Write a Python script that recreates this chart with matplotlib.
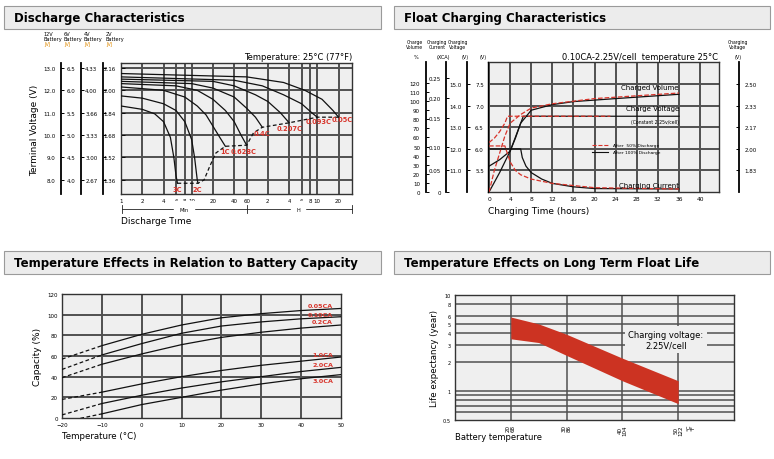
import matplotlib
matplotlib.use("Agg")
import matplotlib.pyplot as plt
import numpy as np
from matplotlib.patches import Rectangle

# ---------------- data ----------------
# Discharge (minutes, 12V-scale voltage)
dis_curves = {
    "3C": [(1,11.3),(2,11.15),(3,10.95),(4,10.6),(5,9.9),(5.6,9.0),(6,8.2),(6.3,7.85)],
    "2C": [(1,11.75),(2,11.65),(4,11.4),(6,11.1),(8,10.6),(10,9.8),(11,9.0),(12,8.0),(12.3,7.85)],
    "1C": [(1,12.15),(4,12.0),(8,11.7),(12,11.3),(16,10.9),(20,10.4),(25,9.9),(30,9.5)],
    "0.628C": [(1,12.3),(6,12.2),(12,12.0),(20,11.6),(30,11.1),(40,10.6),(50,10.0),(60,9.55)],
    "0.4C": [(1,12.4),(10,12.3),(20,12.1),(40,11.7),(60,11.2),(80,10.8),(100,10.35)],
    "0.207C": [(1,12.5),(20,12.4),(40,12.2),(80,11.8),(120,11.5),(180,11.0),(240,10.55)],
    "0.093C": [(1,12.6),(40,12.45),(100,12.2),(200,11.8),(360,11.4),(500,11.0),(600,10.8)],
    "0.05C": [(1,12.75),(60,12.6),(200,12.35),(400,12.0),(700,11.6),(1000,11.1),(1200,10.8)],
}
dis_label_pos = {"3C":(6.2,7.6),"2C":(12,7.6),"1C":(30,9.3),"0.628C":(55,9.3),
                 "0.4C":(100,10.1),"0.207C":(240,10.3),"0.093C":(620,10.65),"0.05C":(1350,10.7)}
dis_end = [(6.3,7.85),(12.3,7.85),(15,8.0),(18,8.6),(22,9.2),(30,9.5),(60,9.55),(75,10.1),
           (100,10.35),(240,10.55),(600,10.8),(1200,10.8)]
dis_xticks = [1,2,4,6,8,10,20,40,60,120,240,360,480,600,1200]
dis_xlabels = ["1","2","4","6","8","10","20","40","60","2","4","6","8","10","20"]
v12 = [13,12,11,10,9,8]
v6 = ["6.5","6.0","5.5","5.0","4.5","4.0"]
v4 = ["4.33","4.00","3.66","3.33","3.00","2.67"]
v2 = ["2.16","2.00","1.84","1.68","1.52","1.36"]

# Float charging (hours, main V scale)
vol_black = [(0,5.0),(2,5.45),(4,5.95),(6,6.6),(8,6.9),(12,7.03),(16,7.1),(24,7.17),(36,7.27)]
vol_red = [(0,5.0),(1,5.5),(2,5.9),(3,6.3),(4,6.6),(6,6.8),(8,6.95),(12,7.05),(20,7.17),(36,7.3)]
volt_black = [(0,5.6),(2,5.75),(4,5.95),(5,6.25),(6,6.6),(6.5,6.76),(36,6.76)]
volt_red = [(0,6.15),(1,6.25),(2,6.4),(3,6.6),(3.5,6.76),(23,6.76)]
cur_black = [(0,6.0),(6,6.0),(6.3,5.8),(7,5.6),(8,5.45),(10,5.3),(12,5.2),(16,5.12),(20,5.08),(36,5.07)]
cur_red = [(0,6.07),(3,6.07),(4,5.7),(5,5.5),(6,5.4),(8,5.3),(12,5.2),(20,5.1),(36,5.07)]

# Temperature vs capacity
temps = [-20,-10,0,10,20,30,40,50]
cap = {
    "0.05CA": [57,70,81,90,97,101,104,106],
    "0.10CA": [47,61,72,82,89,93,96,98],
    "0.2CA": [39,52,62,71,78,83,87,90],
    "1.0CA": [18,25,33,40,46,51,55,59],
    "2.0CA": [3,14,22,29,35,40,45,49],
    "3.0CA": [-4,4,13,20,27,33,38,42],
}
cap_lab_y = {"0.05CA":108.5,"0.10CA":100.5,"0.2CA":93,"1.0CA":61,"2.0CA":51.5,"3.0CA":36}

# Float life
life_t = [20,25,30,40,50]
life_hi = [5.9,5.0,3.9,2.2,1.28]
life_lo = [3.5,3.2,2.35,1.28,0.74]

# ---------------- figure ----------------
fig = plt.figure(figsize=(7.74,4.6), dpi=100)
W,H = 774,460
BG = "#efefef"; GC = "#505050"; RED = "#d8332a"

def fa(l,t,r,b):
    return [l/W, 1-b/H, (r-l)/W, (b-t)/H]

def title_band(l,t,r,b,txt):
    fig.patches.append(Rectangle((l/W,1-b/H),(r-l)/W,(b-t)/H,transform=fig.transFigure,
                                 facecolor="#ececec",edgecolor="#9a9a9a",lw=0.8))
    fig.text((l+10)/W,1-(t+b)/2/H,txt,fontsize=8.5,fontweight="bold",va="center",ha="left")

title_band(4,7,381,30,"Discharge Characteristics")
title_band(394,7,770,30,"Float Charging Characteristics")
title_band(4,252,381,275,"Temperature Effects in Relation to Battery Capacity")
title_band(394,252,770,275,"Temperature Effects on Long Term Float Life")

def style(ax):
    ax.set_facecolor(BG)
    for s in ax.spines.values():
        s.set_color("#333"); s.set_linewidth(1.0)
    ax.tick_params(labelsize=4.5, length=2, width=0.6)

def extra(ax, frac, ticks, labels, side="left"):
    tw = ax.twinx()
    tw.set_ylim(ax.get_ylim())
    tw.spines["right"].set_visible(side=="right")
    for k in ("top","bottom"): tw.spines[k].set_visible(False)
    if side=="left":
        tw.spines["left"].set_visible(True)
        tw.spines["left"].set_position(("axes",frac))
        tw.yaxis.set_ticks_position("left"); tw.yaxis.set_label_position("left")
    else:
        tw.spines["right"].set_position(("axes",frac))
    tw.set_yticks(ticks); tw.set_yticklabels(labels)
    tw.tick_params(labelsize=4.0, length=2.5, width=0.7, direction="in", pad=4)
    tw.spines[side].set_linewidth(1.3)
    return tw

# ---- Discharge ----
ax1 = fig.add_axes(fa(121,64,352,195))
style(ax1)
ax1.set_xscale("log"); ax1.set_xlim(1,1860); ax1.set_ylim(7.37,13.22)
for x in dis_xticks: ax1.axvline(x,color=GC,lw=1.4,zorder=1)
for y in v12: ax1.axhline(y,color=GC,lw=1.4,zorder=1)
for k,pts in dis_curves.items():
    x,y = zip(*pts); ax1.plot(x,y,color="#111",lw=0.9,zorder=3)
    lx,ly = dis_label_pos[k]
    ax1.text(lx,ly,k,color=RED,fontsize=4.8,fontweight="bold",ha="center",va="center",zorder=4)
x,y = zip(*dis_end); ax1.plot(x,y,color="#111",lw=0.9,ls=(0,(3,2)),zorder=3)
ax1.set_xticks(dis_xticks); ax1.set_xticklabels(dis_xlabels)
ax1.minorticks_off()
ax1.tick_params(axis="x",length=0,labelsize=4.0,pad=3)
ax1.set_yticks(v12); ax1.set_yticklabels(v2)
ax1.tick_params(axis="y",direction="in",length=3,pad=4,labelsize=4.0)
extra(ax1,-0.26,v12,[f"{v:.1f}" for v in v12])
extra(ax1,-0.173,v12,v6)
extra(ax1,-0.078,v12,v4)
for px,lab in [(44,"12V"),(64,"6V"),(84,"4V"),(106,"2V")]:
    fig.text(px/W,1-42/H,lab+"\nBattery",fontsize=3.6,va="bottom",ha="left",linespacing=1.1)
    fig.text(px/W,1-47/H,"JVJ",fontsize=3.6,color="#e08a00",va="bottom",ha="left")
fig.text(352/W,1-58/H,"Temperature: 25°C (77°F)",fontsize=6,ha="right",va="center")
fig.text(121/W,1-222/H,"Discharge Time",fontsize=6.5,ha="left",va="center")
fig.text(35/W,1-130/H,"Terminal Voltage (V)",fontsize=6.5,rotation=90,ha="center",va="center")
yb = 1-210/H
fig.lines.append(plt.Line2D([122/W,352/W],[yb,yb],transform=fig.transFigure,color="#222",lw=0.6))
for px in (122,247,352):
    fig.lines.append(plt.Line2D([px/W,px/W],[yb-0.008,yb+0.008],transform=fig.transFigure,color="#222",lw=0.6))
fig.text(184/W,yb,"Min",fontsize=3.6,ha="center",va="center",backgroundcolor="white")
fig.text(298/W,yb,"H",fontsize=3.6,ha="center",va="center",backgroundcolor="white")

# ---- Float charging ----
ax2 = fig.add_axes(fa(488,63,719,193))
style(ax2)
ax2.set_xlim(-0.2,43.6); ax2.set_ylim(5.0,8.02)
for x in range(0,44,4): ax2.axvline(x,color=GC,lw=1.4,zorder=1)
for y in [5.5,6.0,6.5,7.0,7.5]: ax2.axhline(y,color=GC,lw=1.4,zorder=1)
for pts,c,ls in [(vol_black,"#111","-"),(vol_red,RED,"--"),(volt_black,"#111","-"),
                 (volt_red,RED,"--"),(cur_black,"#111","-"),(cur_red,RED,"--")]:
    x,y = zip(*pts); ax2.plot(x,y,color=c,ls=ls,lw=0.9,zorder=3)
ax2.set_xticks(range(0,44,4)); ax2.tick_params(axis="x",length=0,labelsize=4.3,pad=3)
ax2.set_yticks([5.5,6.0,6.5,7.0,7.5]); ax2.tick_params(axis="y",length=0,labelsize=4.0,pad=3)
ax2.text(36,7.38,"Charged Volume",fontsize=5,ha="right",va="bottom")
ax2.text(36,6.88,"Charge Voltage",fontsize=5,ha="right",va="bottom")
ax2.text(36,6.63,"(Constant 2.25v/cell)",fontsize=3.3,ha="right",va="center")
ax2.text(36,5.1,"Charging Current",fontsize=5,ha="right",va="bottom")
ax2.plot([19.5,22.5],[6.1,6.1],color=RED,ls="--",lw=0.8)
ax2.plot([19.5,22.5],[5.93,5.93],color="#111",lw=0.8)
ax2.text(23.5,6.1,"After  50% Discharge",fontsize=3.2,va="center")
ax2.text(23.5,5.93,"After 100% Discharge",fontsize=3.2,va="center")
vt = [5.5,6.0,6.5,7.0,7.5]
extra(ax2,-0.09,vt,["11.0","12.0","13.0","14.0","15.0"])
cur_zy = [490,424,355,268,207,147]
extra(ax2,-0.18,[7.5-(z-167)/129.5 for z in cur_zy],["0","0.05","0.10","0.15","0.20","0.25"])
volt_pos = [5.0+(v/143)*3.02 for v in range(0,121,10)]
extra(ax2,-0.27,volt_pos,[str(v) for v in range(0,121,10)])
extra(ax2,1.087,vt,["1.83","2.00","2.17","2.33","2.50"],side="right")
for px,lab in [(415,"Charge\nVolume"),(437,"Charging\nCurrent"),(458,"Charging\nVoltage"),(738,"Charging\nVoltage")]:
    fig.text(px/W,1-50/H,lab,fontsize=3.3,ha="center",va="bottom",linespacing=1.0)
for px,lab in [(416,"%"),(443,"(XCA)"),(465,"(V)"),(483,"(V)"),(738,"(V)")]:
    fig.text(px/W,1-60/H,lab,fontsize=3.6,ha="center",va="bottom")
fig.text(718/W,1-57/H,"0.10CA-2.25V/cell  temperature 25°C",fontsize=6,ha="right",va="center")
fig.text(488/W,1-212/H,"Charging Time (hours)",fontsize=6.5,ha="left",va="center")

# ---- Temperature vs capacity ----
ax3 = fig.add_axes(fa(62,295,341,419))
style(ax3)
ax3.set_xlim(-20,50); ax3.set_ylim(0,120)
for x in range(-10,50,10): ax3.axvline(x,color=GC,lw=1.4,zorder=1)
for y in range(20,120,20): ax3.axhline(y,color=GC,lw=1.4,zorder=1)
for k,vals in cap.items():
    t = np.array(temps,float); v = np.array(vals,float)
    ax3.plot(t[:2],v[:2],color="#111",lw=0.9,ls=(0,(3,2)),zorder=3)
    ax3.plot(t[1:],v[1:],color="#111",lw=0.9,zorder=3)
    ax3.text(48,cap_lab_y[k],k,color=RED,fontsize=4.6,fontweight="bold",ha="right",va="center")
ax3.set_xticks(range(-20,51,10)); ax3.set_yticks(range(0,121,20))
ax3.tick_params(length=0,labelsize=4.0,pad=3)
ax3.set_ylabel("Capacity (%)",fontsize=6.5,labelpad=4)
fig.text(62/W,1-437/H,"Temperature (°C)",fontsize=6.2,ha="left",va="center")

# ---- Float life ----
ax4 = fig.add_axes(fa(455,296,734,421))
style(ax4)
ax4.set_xlim(10,60); ax4.set_yscale("log"); ax4.set_ylim(0.5,10)
for x in (20,30,40,50): ax4.axvline(x,color=GC,lw=1.1,zorder=1)
for y in [8,6,5,4,3,2,1,0.9,0.8,0.7,0.6]: ax4.axhline(y,color=GC,lw=1.1,zorder=1)
ax4.fill_between(life_t,life_lo,life_hi,color="#cc3322",lw=0,zorder=3)
ax4.set_yticks([0.5,1,2,3,4,5,6,8,10]); ax4.set_yticklabels(["0.5","1","2","3","4","5","6","8","10"])
ax4.minorticks_off()
ax4.set_xticks([20,30,40,50]); ax4.set_xticklabels(["20\n68","30\n86","40\n104","50\n122"],rotation=90,linespacing=0.9)
ax4.tick_params(length=0,labelsize=4.0,pad=3)
ax4.tick_params(axis="y",labelsize=3.6)
ax4.text(52.3,0.455,"°C\n°F",fontsize=4.0,rotation=90,ha="center",va="top",linespacing=0.9)
ax4.text(47.8,3.45,"Charging voltage:\n2.25V/cell",fontsize=6,ha="center",va="center",zorder=5,
         bbox=dict(facecolor=BG,edgecolor="none",pad=2.5))
ax4.set_ylabel("Life expectancy (year)",fontsize=6.2,labelpad=3)
fig.text(455/W,1-438/H,"Battery temperature",fontsize=6,ha="left",va="center")

fig.savefig("out.png",dpi=100)
